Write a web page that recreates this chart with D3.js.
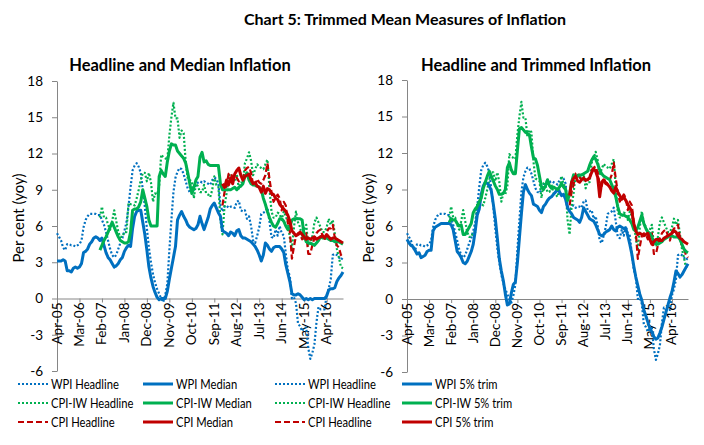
<!DOCTYPE html>
<html>
<head>
<meta charset="utf-8">
<script src="https://cdn.jsdelivr.net/npm/d3@7"></script>
<style>
  body { margin: 0; background: #fff; }
  text { font-family: Lato, "Liberation Sans", sans-serif; fill: #000; }
</style>
</head>
<body>
<svg id="chart" width="704" height="445"></svg>
<script>
// months Apr-05 .. Dec-16 (category axis)
const months = d3.timeMonth.range(new Date(2005, 3, 1), new Date(2017, 0, 1)).map(d3.timeFormat("%b-%y"));
const tickLabels = ["Apr-05", "Mar-06", "Feb-07", "Jan-08", "Dec-08", "Nov-09", "Oct-10",
                    "Sep-11", "Aug-12", "Jul-13", "Jun-14", "May-15", "Apr-16"];
const yTicks = [-6, -3, 0, 3, 6, 9, 12, 15, 18];

// series start months
const wpiStart = "Apr-05";
const cpiIwStart = "Jan-07";
const cpiStart = "Jan-12";

const wpiHeadline = [
  5.4, 5.1, 4.8, 4.2, 4.0, 4.5, 4.5, 4.4, 4.4, 4.3,
  4.4, 4.5, 4.8, 5.9, 6.5, 6.8, 7.0, 7.0, 7.0, 7.0,
  6.9, 6.9, 6.5, 6.1, 5.5, 4.8, 4.1, 3.6, 3.4, 3.6,
  4.1, 4.6, 5.0, 5.6, 6.3, 7.6, 9.2, 10.6, 11.0, 11.2,
  10.9, 10.4, 9.0, 7.6, 5.8, 4.2, 3.0, 2.0, 1.3, 0.8,
  0.4, 0.0, -0.3, 0.3, 1.2, 4.0, 6.5, 8.8, 10.0, 10.5,
  10.8, 10.7, 10.3, 9.7, 9.1, 8.8, 8.7, 9.0, 9.4, 9.6,
  9.7, 9.6, 9.7, 9.6, 9.5, 9.4, 9.8, 10.0, 9.9, 9.5,
  7.7, 7.2, 7.6, 7.7, 7.5, 7.6, 7.6, 7.5, 8.0, 8.1,
  7.3, 7.2, 7.3, 6.6, 6.8, 6.0, 4.8, 4.6, 5.2, 5.9,
  7.0, 7.1, 7.2, 7.5, 6.4, 5.1, 5.0, 5.7, 5.2, 6.0,
  5.4, 5.2, 3.7, 2.4, 1.8, 0.0, 0.1, -0.4, -2.1, -2.3,
  -2.7, -2.4, -2.4, -4.1, -5.0, -4.5, -3.8, -2.0, -0.7, -0.9,
  -0.9, -0.9, 0.3, 0.8, 1.6, 3.6, 3.7, 3.6, 3.4, 3.2, 3.4
];
const cpiIwHeadline = [
  6.7, 7.6, 6.7, 6.7, 6.1, 5.7, 6.4, 7.3, 6.4, 5.5,
  5.1, 5.1, 5.5, 5.5, 7.9, 7.8, 7.8, 7.7, 8.3, 9.0,
  9.8, 10.4, 10.4, 9.7, 10.4, 9.6, 8.0, 8.7, 8.6, 9.3,
  11.9, 11.7, 11.6, 11.5, 13.5, 15.0, 16.2, 14.9, 14.9, 13.3,
  13.9, 13.7, 11.3, 9.9, 9.8, 9.7, 8.3, 9.5, 9.3, 8.8,
  8.8, 9.4, 8.7, 8.6, 8.4, 9.0, 10.1, 9.4, 9.3, 6.5,
  5.3, 7.6, 8.7, 10.2, 10.2, 10.1, 9.8, 10.3, 9.1, 9.6,
  9.6, 11.2, 11.6, 12.1, 11.4, 10.2, 10.7, 11.1, 10.9, 10.8,
  10.7, 11.1, 11.5, 9.1, 7.2, 6.7, 6.7, 7.1, 7.0, 6.5,
  7.2, 6.8, 6.3, 5.0, 4.1, 5.9, 7.2, 6.3, 5.9, 5.1,
  5.7, 6.1, 4.4, 4.4, 5.1, 6.3, 6.7, 6.3, 5.9, 5.5,
  5.5, 5.9, 6.6, 6.1, 6.5, 5.3, 4.1, 3.4, 2.6, 2.5
];
const cpiHeadline = [
  7.7, 8.8, 9.4, 10.3, 10.4, 10.0, 9.8, 10.0, 9.7, 9.8,
  9.9, 10.6, 10.8, 10.9, 10.4, 9.4, 9.3, 9.9, 9.6, 9.5,
  9.8, 10.2, 11.2, 9.9, 8.8, 8.0, 8.3, 8.6, 8.3, 7.3,
  8.0, 7.7, 6.3, 5.5, 3.3, 4.3, 5.2, 5.4, 5.3, 4.9,
  5.0, 5.4, 3.7, 3.7, 4.4, 5.0, 5.4, 5.6, 5.7, 5.2,
  4.8, 5.5, 5.8, 5.8, 6.1, 5.0, 4.4, 4.2, 3.6, 3.4
];

const wpiMedian = [
  3.1, 3.1, 3.1, 3.2, 3.1, 2.3, 2.3, 2.2, 2.5, 2.6,
  2.5, 2.6, 2.9, 3.8, 3.9, 4.1, 4.5, 4.7, 5.0, 5.1,
  5.0, 4.8, 5.0, 4.4, 3.8, 3.4, 3.2, 2.9, 2.6, 2.7,
  2.9, 3.2, 3.4, 3.9, 4.2, 4.4, 4.3, 5.8, 6.8, 7.2,
  7.3, 7.3, 6.3, 5.3, 4.0, 2.6, 1.7, 1.0, 0.5, 0.1,
  -0.1, 0.0, 0.0, 0.0, 0.6, 1.6, 2.5, 3.4, 4.3, 6.5,
  6.9, 7.2, 6.8, 6.5, 6.1, 5.9, 5.8, 5.7, 5.8, 6.1,
  6.8, 6.2, 5.7, 6.2, 6.7, 7.4, 7.7, 7.9, 7.5, 7.1,
  6.8, 5.6, 5.5, 5.4, 5.2, 5.5, 5.4, 5.2, 5.6, 5.7,
  5.2, 5.0, 5.0, 4.9, 4.8, 4.7, 4.5, 4.3, 4.0, 3.6,
  3.1, 3.6, 4.6, 4.4, 4.1, 3.9, 4.2, 4.3, 4.3, 4.3,
  4.1, 3.8, 2.8, 2.1, 1.4, 0.4, 0.3, 0.3, 0.4, 0.3,
  0.1, -0.1, 0.0, -0.1, 0.0, -0.1, 0.0, 0.0, 0.0, 0.0,
  0.0, 0.0, 0.2, 0.7, 0.8, 0.8, 0.9, 1.4, 1.7, 1.9, 2.2
];
const cpiIwMedian = [
  4.0, 4.4, 4.8, 5.1, 5.5, 5.9, 6.3, 5.9, 5.5, 5.1,
  4.8, 4.7, 4.6, 4.6, 4.7, 5.5, 7.3, 7.4, 7.4, 7.6,
  8.0, 9.0, 8.3, 7.6, 6.5, 6.0, 6.0, 6.0, 6.0, 10.1,
  10.6, 10.3, 10.1, 11.3, 12.2, 12.8, 12.7, 12.7, 12.2, 12.0,
  11.8, 11.6, 11.2, 10.4, 9.5, 8.7, 9.2, 9.8, 10.1, 11.7,
  12.1, 11.3, 11.4, 11.1, 11.0, 11.0, 11.0, 11.0, 11.0, 9.5,
  9.0, 9.0, 9.0, 9.0, 9.0, 9.1, 9.2, 9.0, 9.2, 9.3,
  9.5, 10.1, 10.4, 9.8, 9.5, 9.4, 9.4, 9.3, 9.2, 9.0,
  8.3, 7.8, 7.2, 6.7, 6.3, 6.0, 5.9, 6.2, 6.6, 6.6,
  6.4, 6.0, 5.7, 5.9, 6.5, 6.6, 6.6, 6.6, 6.6, 6.5,
  5.2, 4.7, 4.6, 4.6, 4.5, 4.4, 4.6, 4.8, 5.1, 5.0,
  5.0, 5.0, 4.9, 4.8, 4.8, 4.7, 4.7, 4.7, 4.6, 4.5
];
const cpiMedian = [
  9.5, 9.2, 9.8, 9.4, 10.0, 9.5, 10.3, 10.6, 10.8, 10.2,
  9.8, 10.1, 10.2, 10.3, 9.8, 9.5, 9.6, 9.3, 9.2, 8.8,
  9.3, 8.7, 9.1, 9.0, 8.7, 8.6, 8.3, 8.2, 7.8, 7.6,
  7.4, 7.2, 6.9, 6.4, 5.6, 5.4, 5.2, 5.3, 5.5, 5.3,
  5.1, 4.9, 5.0, 4.9, 5.0, 5.1, 4.9, 5.0, 5.1, 5.2,
  5.0, 5.3, 5.1, 4.9, 5.0, 5.0, 4.9, 4.8, 4.7, 4.6
];

const wpiTrim = [
  4.9, 4.6, 4.4, 4.3, 4.0, 3.7, 3.8, 3.4, 3.5, 3.6,
  3.9, 4.0, 4.0, 5.6, 5.9, 6.0, 6.1, 6.2, 6.2, 6.2,
  6.2, 6.2, 6.1, 5.7, 4.8, 3.9, 3.7, 3.4, 3.0, 2.9,
  3.1, 3.5, 3.9, 4.5, 5.6, 6.9, 7.4, 8.6, 9.3, 9.6,
  9.5, 9.3, 8.9, 7.8, 6.6, 5.0, 3.3, 2.3, 1.5, 0.4,
  -0.5, -0.4, 0.5, 1.2, 1.4, 3.0, 5.0, 7.0, 8.8, 9.4,
  9.0, 8.7, 8.5, 7.8, 7.7, 7.6, 7.3, 7.1, 7.6, 7.8,
  8.1, 8.3, 8.4, 8.6, 8.8, 9.0, 8.8, 8.5, 8.6, 8.2,
  7.5, 7.2, 7.0, 6.7, 6.6, 6.5, 6.3, 6.7, 7.5, 7.2,
  6.9, 6.6, 6.5, 6.4, 6.1, 5.7, 5.3, 5.2, 5.3, 5.5,
  5.6, 5.7, 6.0, 5.7, 5.6, 5.9, 6.0, 5.9, 5.8, 5.8,
  5.2, 4.5, 3.7, 2.7, 1.8, 1.1, 0.4, -0.1, -0.9, -1.4,
  -1.9, -2.4, -2.7, -3.1, -3.3, -3.2, -2.8, -2.3, -1.7, -1.1,
  -0.5, 0.1, 0.6, 1.4, 2.3, 2.1, 1.8, 2.0, 2.3, 2.6, 2.9
];
const cpiIwTrim = [
  6.3, 6.6, 6.5, 6.5, 6.2, 6.0, 6.1, 5.3, 5.3, 5.6,
  5.9, 6.2, 7.1, 7.4, 7.6, 8.0, 8.3, 9.1, 9.6, 10.1,
  10.5, 10.1, 9.7, 9.3, 9.0, 8.6, 8.6, 8.7, 9.0, 10.8,
  11.2, 10.6, 10.3, 10.3, 12.2, 14.0, 14.1, 13.9, 13.7, 13.6,
  13.5, 12.5, 11.6, 11.5, 11.0, 10.1, 9.2, 9.0, 9.3, 9.8,
  9.3, 9.1, 9.2, 9.1, 9.0, 9.2, 9.5, 9.2, 9.0, 8.1,
  8.6, 9.6, 10.2, 10.0, 10.1, 10.2, 10.2, 10.3, 10.4, 10.5,
  11.0, 11.4, 11.7, 11.5, 11.1, 10.6, 10.3, 10.1, 10.0, 9.9,
  9.8, 9.4, 9.0, 8.4, 7.6, 7.0, 6.9, 6.9, 6.8, 6.7,
  6.5, 6.2, 5.7, 5.6, 5.9, 6.4, 6.9, 6.2, 5.8, 5.5,
  5.4, 5.1, 4.7, 4.6, 4.5, 4.6, 4.7, 4.9, 5.0, 5.1,
  5.2, 5.2, 5.1, 5.1, 5.1, 4.9, 4.5, 4.1, 3.9, 3.8
];
const cpiTrim = [
  8.5, 9.6, 9.9, 10.1, 9.7, 9.6, 9.8, 9.9, 9.8, 9.8,
  10.0, 10.4, 10.7, 10.5, 10.0, 8.4, 9.6, 9.8, 9.5, 9.4,
  9.2, 8.9, 8.7, 9.2, 8.8, 8.5, 8.2, 8.4, 8.1, 7.8,
  7.5, 7.2, 6.2, 5.6, 5.3, 5.4, 5.3, 5.2, 5.3, 5.4,
  4.9, 4.5, 4.7, 4.9, 4.9, 4.8, 4.8, 5.0, 5.1, 5.2,
  5.3, 5.4, 5.6, 5.5, 5.2, 5.0, 4.9, 4.7, 4.6, 4.5
];

const blue = "#0070C0", green = "#00B050", red = "#C00000";
const styles = {
  dotted: { width: 2.2, dash: "2,2" },
  dashed: { width: 2.2, dash: "6,3" },
  solid:  { width: 3, dash: null }
};

const svg = d3.select("#chart");

svg.append("text")
  .attr("x", 405).attr("y", 25)
  .attr("text-anchor", "middle")
  .attr("font-size", 16).attr("font-weight", "bold")
  .text("Chart 5: Trimmed Mean Measures of Inflation");

const drawPanel = (cfg) => {
  const g = svg.append("g");

  const x = d3.scalePoint().domain(months).range([cfg.left, cfg.right]);
  const y = d3.scaleLinear().domain([-6, 18]).range([cfg.bottom, cfg.top]);

  // panel title
  g.append("text")
    .attr("x", cfg.titleX).attr("y", 71)
    .attr("text-anchor", "middle")
    .attr("font-size", 16.5).attr("font-weight", "bold")
    .text(cfg.title);

  // y axis (plain hyphen for negatives, as in the original)
  const yAxis = g.append("g")
    .attr("transform", `translate(${cfg.left},0)`)
    .call(d3.axisLeft(y).tickValues(yTicks).tickFormat(d => String(d))
      .tickSize(5).tickSizeOuter(0).tickPadding(9));
  yAxis.select(".domain").attr("stroke", "#868686");
  yAxis.selectAll(".tick line").attr("stroke", "#868686");
  yAxis.selectAll(".tick text")
    .attr("font-family", "Lato, sans-serif")
    .attr("font-size", 13.5);

  g.append("text")
    .attr("transform", `translate(${cfg.left - 33},${(cfg.top + cfg.bottom) / 2 - 8}) rotate(-90)`)
    .attr("text-anchor", "middle")
    .attr("font-size", 15)
    .text("Per cent (yoy)");

  // x axis on the zero line
  const xAxis = g.append("g")
    .attr("transform", `translate(0,${y(0)})`)
    .call(d3.axisBottom(x).tickValues(tickLabels.slice(1)).tickSize(4).tickSizeOuter(0).tickFormat(""));
  xAxis.select(".domain").attr("stroke", "#868686");
  xAxis.selectAll(".tick line").attr("stroke", "#868686");

  g.selectAll("text.xlab")
    .data(tickLabels)
    .enter()
    .append("text")
    .attr("class", "xlab")
    .attr("transform", d => `translate(${x(d) + 4.5},${y(0) + 4}) rotate(-90)`)
    .attr("text-anchor", "end")
    .attr("font-size", 13.5)
    .text(d => d);

  // lines
  const line = d3.line()
    .defined(d => d.v != null)
    .x(d => x(d.m))
    .y(d => y(d.v));

  cfg.series.forEach(s => {
    const off = months.indexOf(s.start);
    const pts = s.values.map((v, i) => ({ m: months[off + i], v: v }));
    const st = styles[s.style];
    g.append("path")
      .datum(pts)
      .attr("fill", "none")
      .attr("stroke", s.color)
      .attr("stroke-width", st.width)
      .attr("stroke-dasharray", st.dash)
      .attr("stroke-linejoin", "round")
      .attr("d", line);
  });

  // legend: 2 columns of 3
  const rowY = [384, 403, 422];
  cfg.series.forEach((s, k) => {
    const col = k < 3 ? 0 : 1;
    const row = k % 3;
    const lx = cfg.legendX[col];
    const st = styles[s.style];
    g.append("line")
      .attr("x1", lx).attr("x2", lx + 30)
      .attr("y1", rowY[row]).attr("y2", rowY[row])
      .attr("stroke", s.color)
      .attr("stroke-width", st.width)
      .attr("stroke-dasharray", st.dash);
    // Calibri-like narrow text: squeeze Lato horizontally
    g.append("text")
      .attr("transform", `translate(${lx + 33},${rowY[row] + 5}) scale(0.8,1)`)
      .attr("font-size", 14)
      .text(s.name);
  });
};

drawPanel({
  left: 57, right: 343, top: 81, bottom: 371, titleX: 180,
  title: "Headline and Median Inflation",
  legendX: [18, 143],
  series: [
    { name: "WPI Headline", values: wpiHeadline, start: wpiStart, color: blue, style: "dotted" },
    { name: "CPI-IW Headline", values: cpiIwHeadline, start: cpiIwStart, color: green, style: "dotted" },
    { name: "CPI Headline", values: cpiHeadline, start: cpiStart, color: red, style: "dashed" },
    { name: "WPI Median", values: wpiMedian, start: wpiStart, color: blue, style: "solid" },
    { name: "CPI-IW Median", values: cpiIwMedian, start: cpiIwStart, color: green, style: "solid" },
    { name: "CPI Median", values: cpiMedian, start: cpiStart, color: red, style: "solid" }
  ]
});

drawPanel({
  left: 407, right: 688, top: 80, bottom: 372, titleX: 536,
  title: "Headline and Trimmed Inflation",
  legendX: [275, 402],
  series: [
    { name: "WPI Headline", values: wpiHeadline, start: wpiStart, color: blue, style: "dotted" },
    { name: "CPI-IW Headline", values: cpiIwHeadline, start: cpiIwStart, color: green, style: "dotted" },
    { name: "CPI Headline", values: cpiHeadline, start: cpiStart, color: red, style: "dashed" },
    { name: "WPI 5% trim", values: wpiTrim, start: wpiStart, color: blue, style: "solid" },
    { name: "CPI-IW 5% trim", values: cpiIwTrim, start: cpiIwStart, color: green, style: "solid" },
    { name: "CPI 5% trim", values: cpiTrim, start: cpiStart, color: red, style: "solid" }
  ]
});
</script>
</body>
</html>
